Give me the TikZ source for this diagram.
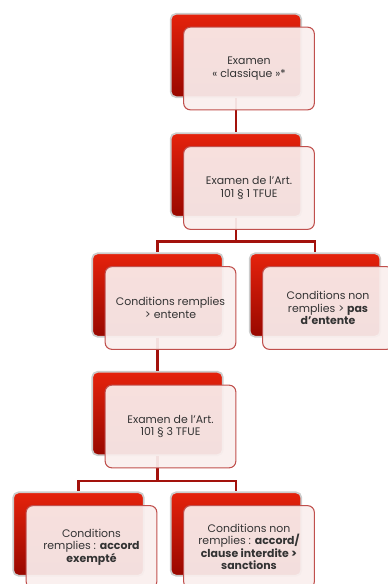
\documentclass[tikz,border=0pt]{standalone}
\usepackage{fontspec}
\setmainfont{Poppins}
\usepackage{tikz}
\usepackage{xcolor}
\usetikzlibrary{calc}

\definecolor{boxred}{HTML}{E5220C}
\definecolor{boxdark}{HTML}{980800}
\definecolor{linered}{HTML}{A3120C}
\definecolor{frontfill}{HTML}{FAEFEE}
\definecolor{frontdraw}{HTML}{C0504D}
\definecolor{txtgray}{HTML}{333333}

\begin{document}
\begin{tikzpicture}[x=0.75pt, y=-0.75pt,
  back/.style={rectangle, rounded corners=4pt, minimum width=98pt, minimum height=62.5pt,
    top color=boxred, bottom color=boxdark, draw=black!20, line width=1.3pt},
  front/.style={rectangle, rounded corners=5pt, minimum width=98pt, minimum height=62pt,
    fill=frontfill, fill opacity=0.93, text opacity=1, draw=frontdraw, line width=0.8pt,
    text=txtgray, align=center, font=\fontsize{8.2}{9.4}\selectfont},
  conn/.style={draw=linered, line width=1.6pt}]
\useasboundingbox (0,0) rectangle (387,584);

% red boxes behind
\node[back] (b1) at (236,55.5) {};
\node[back] (b2) at (236,175) {};
\node[back] (b3) at (157.5,295) {};
\node[back] (b4) at (315,295) {};
\node[back] (b5) at (157.5,413.5) {};
\node[back] (b6) at (78.5,534) {};
\node[back] (b7) at (236,534) {};

% tree lines
\draw[conn] (b1.south) -- (b2.north);
\draw[conn] (b2.south) -- ++(0,24) coordinate (j2) -| (b3.north);
\draw[conn] (j2) -| (b4.north);
\draw[conn] (b3.south) -- (b5.north);
\draw[conn] (b5.south) -- ++(0,25) coordinate (j5) -| (b6.north);
\draw[conn] (j5) -| (b7.north);

% text boxes in front
\node[front] (f1) at ([shift={(13,13)}]b1) {Examen\\« classique »*};
\node[front] (f2) at ([shift={(13,13)}]b2) {Examen de l’Art.\\101 § 1 TFUE};
\node[front] (f3) at ([shift={(13,13)}]b3) {Conditions remplies\\> entente};
\node[front] (f4) at ([shift={(13,13)}]b4) {Conditions non\\remplies > \textbf{pas}\\\textbf{d’entente}};
\node[front] (f5) at ([shift={(13,13)}]b5) {Examen de l’Art.\\101 § 3 TFUE};
\node[front] (f6) at ([shift={(13,13)}]b6) {Conditions\\remplies : \textbf{accord}\\\textbf{exempté}};
\node[front] (f7) at ([shift={(13,13)}]b7) {Conditions non\\remplies : \textbf{accord/}\\\textbf{clause interdite >}\\\textbf{sanctions}};
\end{tikzpicture}
\end{document}
